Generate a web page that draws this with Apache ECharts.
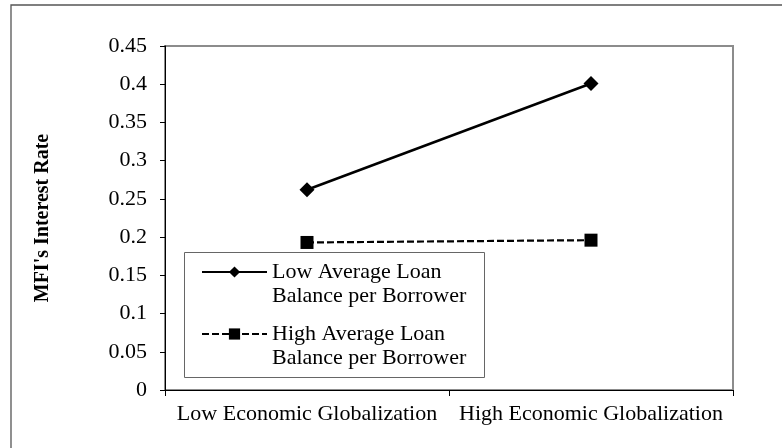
<!DOCTYPE html>
<html><head><meta charset="utf-8">
<script src="https://cdn.jsdelivr.net/npm/echarts@6/dist/echarts.min.js"></script>
<style>html,body{margin:0;padding:0;background:#fff}#c{width:782px;height:448px}</style>
</head><body><div id="c"></div>
<script>
const categories = ['Low Economic Globalization', 'High Economic Globalization'];
const lowLoanBalance = [0.262, 0.401];
const highLoanBalance = [0.193, 0.196];
const seriesNames = ['Low Average Loan\nBalance per Borrower', 'High Average Loan\nBalance per Borrower'];
const yMin = 0, yMax = 0.45, yStep = 0.05;
const yAxisTitle = "MFI's Interest Rate";

const FONT = '"Liberation Serif", "Times New Roman", serif';
const chart = echarts.init(document.getElementById('c'), null, {renderer: 'canvas'});
chart.setOption({
  animation: false,
  backgroundColor: '#fff',
  grid: {left: 165, right: 49, top: 46, bottom: 58, show: true, borderColor: '#8c8c8c', borderWidth: 2, backgroundColor: 'transparent'},
  xAxis: {
    type: 'category', data: categories, boundaryGap: true,
    axisLine: {lineStyle: {color: '#000', width: 1}},
    axisTick: {show: true, length: 6, interval: 0, lineStyle: {color: '#000'}},
    axisLabel: {color: '#000', fontFamily: FONT, fontSize: 22, margin: 13, interval: 0, hideOverlap: false},
    splitLine: {show: false}
  },
  yAxis: {
    type: 'value', min: yMin, max: yMax, interval: yStep,
    name: yAxisTitle, nameLocation: 'middle', nameGap: 112, nameRotate: 90,
    nameTextStyle: {color: '#000', fontFamily: FONT, fontWeight: 'bold', fontSize: 20},
    axisLine: {show: true, lineStyle: {color: '#000', width: 1}},
    axisTick: {show: true, length: 5, lineStyle: {color: '#000'}},
    axisLabel: {color: '#000', fontFamily: FONT, fontSize: 22, margin: 18},
    splitLine: {show: false}
  },
  legend: {
    orient: 'vertical', left: 201, top: 236, padding: 0, itemGap: -10,
    itemWidth: 65, itemHeight: 14,
    data: seriesNames,
    formatter: function (n) { return '\n' + n; },
    textStyle: {color: '#000', fontFamily: FONT, fontSize: 22, lineHeight: 24},
    selectedMode: false
  },
  graphic: [
    {type: 'rect', z: 0, silent: true, shape: {x: 11, y: 5, width: 900, height: 600}, style: {fill: null, stroke: '#555', lineWidth: 1.3}},
    {type: 'rect', z: 3, silent: true, shape: {x: 184.5, y: 252.5, width: 300, height: 125}, style: {fill: '#fff', stroke: '#666', lineWidth: 1}}
  ],
  series: [
    {name: seriesNames[0], type: 'line', data: lowLoanBalance, symbol: 'diamond', symbolSize: 15,
     lineStyle: {color: '#000', width: 2.5}, itemStyle: {color: '#000'}},
    {name: seriesNames[1], type: 'line', data: highLoanBalance, symbol: 'rect', symbolSize: 13,
     lineStyle: {color: '#000', width: 2.2, type: [7, 3]}, itemStyle: {color: '#000'}}
  ]
});
</script></body></html>
